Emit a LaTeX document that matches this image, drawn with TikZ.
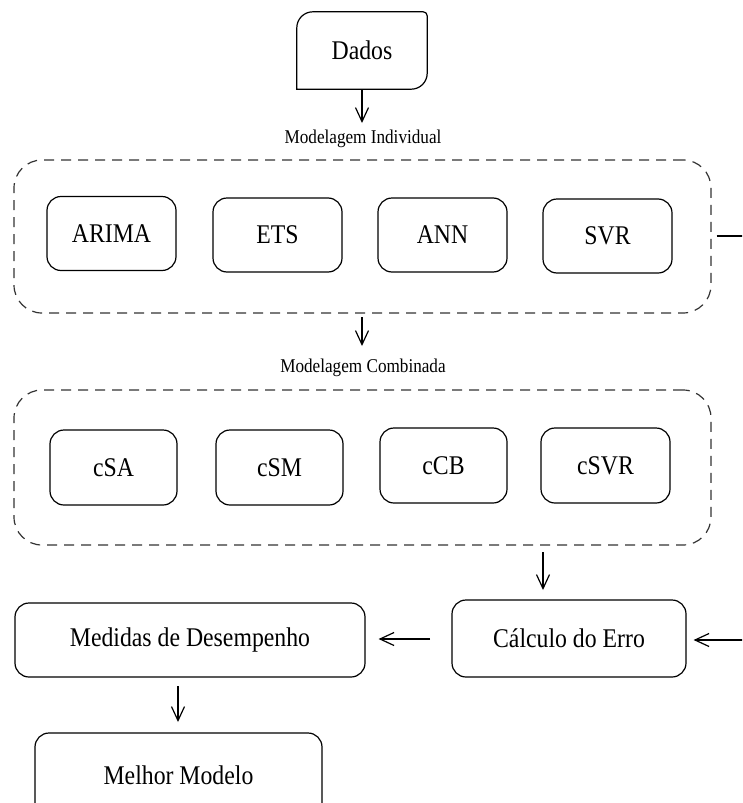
\documentclass[tikz,border=0pt]{standalone}
\usepackage{fontspec}
\setmainfont[FakeStretch=0.88]{Liberation Serif}
\usetikzlibrary{arrows.meta,calc}
\begin{document}
\begin{tikzpicture}[x=1pt,y=-1pt,
  box/.style={draw,line width=1.2pt,rounded corners=14pt,font=\fontsize{27}{31}\selectfont,inner sep=0pt},
  grp/.style={draw=black!80,line width=1.2pt,dash pattern=on 10pt off 7pt,rounded corners=28pt,inner sep=0pt},
  lbl/.style={font=\fontsize{19.5}{22}\selectfont,inner sep=0pt},
  arr/.style={line width=1.2pt,-{Straight Barb[length=14pt,width=13pt,line width=1.2pt]}}]
\useasboundingbox (0,0) rectangle (742,803);
\clip (0,0) rectangle (742,803);
% Dados
\node[font=\fontsize{27}{31}\selectfont,minimum width=130pt,minimum height=77pt,inner sep=0pt] (dados) at (362,50.5) {Dados};
\draw[line width=1.2pt] (dados.south west) -- ($(dados.north west)+(0,16)$) arc[start angle=180,end angle=270,radius=16] -- ($(dados.north east)+(-4,0)$) arc[start angle=270,end angle=360,radius=4] -- ($(dados.south east)+(0,-16)$) arc[start angle=0,end angle=90,radius=16] -- cycle;
\node[lbl] (lblI) at (363,139) {Modelagem Individual};
\coordinate (d2) at (362,123);
\draw[arr] (dados.south) -- (d2);
% Individual group
\node[grp,minimum width=697pt,minimum height=153pt] (grpI) at (362.5,236.5) {};
\node[box,minimum width=129pt,minimum height=74pt] (arima) at (111.5,233.5) {ARIMA};
\node[box,minimum width=129pt,minimum height=74pt] (ets) at (277.5,235) {ETS};
\node[box,minimum width=129pt,minimum height=74pt] (ann) at (442.5,235) {ANN};
\node[box,minimum width=129pt,minimum height=74pt] (svr) at (607.5,236) {SVR};
\coordinate (outI) at (750,236);
\draw[line width=1.2pt] ([xshift=5pt]grpI.east |- outI) -- (outI);
\node[lbl] (lblC) at (363,368) {Modelagem Combinada};
\coordinate (i1) at (362,317);
\coordinate (i2) at (362,346);
\draw[arr] (i1) -- (i2);
% Combined group
\node[grp,minimum width=697pt,minimum height=155pt] (grpC) at (362.5,467.5) {};
\node[box,minimum width=127pt,minimum height=75pt] (csa) at (113.5,467.5) {cSA};
\node[box,minimum width=127pt,minimum height=75pt] (csm) at (279.5,467.5) {cSM};
\node[box,minimum width=127pt,minimum height=75pt] (ccb) at (443.5,465.5) {cCB};
\node[box,minimum width=129pt,minimum height=75pt] (csvr) at (605.5,465.5) {cSVR};
% Bottom
\node[box,minimum width=234pt,minimum height=77pt] (erro) at (569,638.5) {Cálculo do Erro};
\node[box,minimum width=350pt,minimum height=74pt] (med) at (190,640) {Medidas de Desempenho};
\node[box,minimum width=287pt,minimum height=84pt] (melhor) at (178.5,775) {Melhor Modelo};
\coordinate (ca) at (543,552);
\coordinate (cb) at (543,590);
\draw[arr] (ca) -- (cb);
\coordinate (ea) at (430,639);
\draw[arr,shorten >=13pt] (ea) -- (med.east |- ea);
\coordinate (inE) at (745,640);
\draw[arr,shorten >=7pt] (inE) -- (erro.east |- inE);
\coordinate (ma) at (178,686);
\coordinate (mb) at (178,722);
\draw[arr] (ma) -- (mb);
\end{tikzpicture}
\end{document}
